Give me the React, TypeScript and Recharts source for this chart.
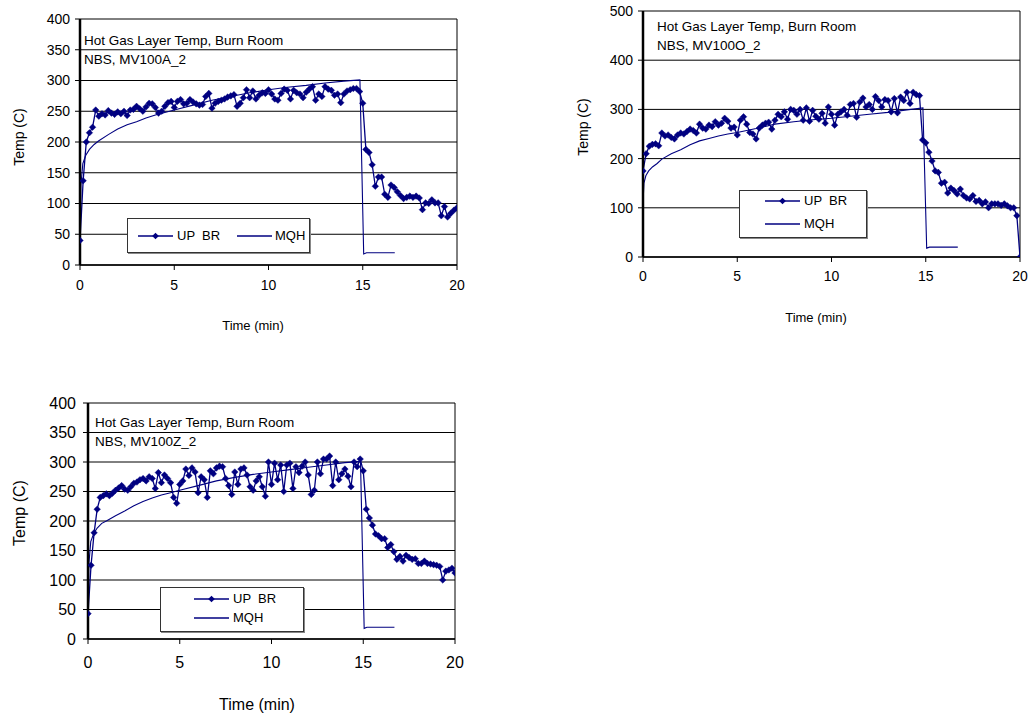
import React from 'react';
import { LineChart, Line, XAxis, YAxis, CartesianGrid, ReferenceLine, Legend } from 'recharts';

const NAVY = '#000080';
const FONT = '"Liberation Sans", Arial, Helvetica, sans-serif';

// UP BR readings are sampled every 10 s (1/6 min)
const SAMPLE_STEP_MIN = 1 / 6;
const X_TICKS = [0, 5, 10, 15, 20];
const Y_TICKS_400 = [0, 50, 100, 150, 200, 250, 300, 350, 400];
const Y_TICKS_500 = [0, 100, 200, 300, 400, 500];
const SERIES_NAMES = ['UP  BR', 'MQH'];
const TITLE_LINE1 = 'Hot Gas Layer Temp, Burn Room';
const TITLES_LINE2 = ['NBS, MV100A_2', 'NBS, MV100O_2', 'NBS, MV100Z_2'];
const X_TITLE = 'Time (min)';
const Y_TITLE = 'Temp (C)';

const UPBR_A = [
  40, 137, 200, 215, 224, 252, 242, 246, 244, 251,
  247, 245, 249, 246, 250, 243, 252, 253, 258, 254,
  250, 257, 263, 262, 256, 247, 250, 258, 264, 266,
  256, 266, 269, 262, 263, 269, 265, 262, 260, 261,
  274, 279, 255, 263, 266, 268, 270, 273, 275, 277,
  258, 263, 272, 285, 272, 283, 270, 276, 280, 279,
  285, 278, 270, 268, 279, 286, 284, 270, 284, 280,
  278, 272, 281, 286, 290, 268, 278, 274, 290, 286,
  284, 276, 278, 264, 278, 283, 285, 287, 287, 282,
  263, 188, 183, 163, 128, 143, 143, 115, 110, 130,
  126, 119, 113, 108, 110, 112, 110, 112, 109, 90,
  101, 100, 106, 101, 101, 80, 95, 78, 84, 89,
  93,
];

const UPBR_O = [
  175, 210, 225, 229, 230, 226, 252, 246, 248, 243,
  240, 248, 252, 250, 255, 260, 257, 252, 270, 262,
  260, 268, 265, 275, 268, 272, 282, 276, 262, 264,
  248, 278, 285, 270, 253, 250, 240, 262, 268, 272,
  274, 260, 278, 290, 285, 295, 280, 300, 298, 290,
  300, 278, 303, 276, 298, 286, 280, 292, 272, 305,
  290, 268, 290, 295, 300, 288, 310, 312, 284, 315,
  323, 305, 310, 300, 326, 318, 305, 320, 318, 295,
  322, 293, 325, 318, 335, 312, 335, 330, 328, 238,
  232, 213, 195, 175, 172, 150, 152, 130, 140, 135,
  128, 138, 125, 120, 118, 125, 113, 115, 108, 112,
  100, 108, 108, 108, 105, 108, 104, 100, 100, 84,
  0,
];

const UPBR_Z = [
  43, 125, 180, 220, 240, 243, 246, 243, 247, 252,
  256, 260, 254, 252, 258, 264, 266, 270, 272, 268,
  275, 272, 255, 282, 265, 278, 272, 265, 240, 230,
  262, 268, 288, 277, 290, 283, 248, 275, 270, 240,
  285, 280, 290, 293, 292, 272, 260, 245, 283, 262,
  288, 290, 278, 258, 252, 268, 275, 258, 242, 300,
  262, 298, 270, 295, 250, 295, 298, 255, 292, 282,
  293, 300, 278, 245, 252, 300, 280, 305, 305, 310,
  260, 300, 270, 280, 288, 276, 258, 300, 292, 305,
  285, 220, 205, 193, 178, 175, 170, 170, 155, 160,
  148, 135, 140, 132, 142, 138, 135, 136, 128, 128,
  132, 128, 127, 126, 125, 123, 100, 115, 117, 120,
  112,
];

const MQH_TIME = [0, 0.05, 0.15, 0.3, 0.5, 0.75, 1, 1.5, 2, 2.5, 3, 3.5, 4, 4.5, 5, 6, 7, 8, 9, 10, 11, 12, 13, 14, 14.85, 15.05, 15.2, 16.7];
const MQH_A = [20, 130, 165, 178, 188, 196, 202, 212, 221, 228, 233, 239, 244, 248, 252, 260, 268, 274, 280, 285, 289, 292, 296, 299, 301, 18, 20, 20];
const MQH_O = [110, 150, 165, 175, 183, 190, 199, 210, 218, 228, 236, 241, 246, 250, 253, 261, 270, 275, 279, 282, 286, 290, 294, 299, 303, 18, 20, 20];
const MQH_Z = [20, 128, 165, 178, 188, 196, 200, 209, 217, 226, 233, 239, 244, 248, 252, 260, 268, 274, 279, 283, 287, 291, 295, 299, 301, 18, 20, 20];

const toSampled = (vals: number[]) => vals.map((v, i) => ({ t: i * SAMPLE_STEP_MIN, v }));
const toPairs = (ts: number[], vals: number[]) => ts.map((t, i) => ({ t, v: vals[i] }));

const Diamond = (props: any) => {
  const { cx, cy, index } = props;
  if (cx == null || cy == null) return <g key={`d-${index}`} />;
  const r = 3.3;
  return (
    <path
      key={`d-${index}`}
      d={`M${cx},${cy - r}L${cx + r},${cy}L${cx},${cy + r}L${cx - r},${cy}Z`}
      fill={NAVY}
      stroke={NAVY}
      strokeWidth={0.4}
    />
  );
};

type LegendItemPos = { lineX: number; lineY: number; textX: number };
type LegendCfg = { left: number; top: number; width: number; height: number; items: LegendItemPos[] };

const makeLegend = (cfg: LegendCfg) => () => (
  <div
    style={{
      position: 'relative',
      width: cfg.width,
      height: cfg.height,
      border: '1px solid #333',
      background: '#fff',
      boxSizing: 'border-box',
      boxShadow: '1px 1px 0 #888',
      fontFamily: FONT,
      fontSize: 13,
      color: '#000',
    }}
  >
    {cfg.items.map((it, k) => (
      <React.Fragment key={k}>
        <svg style={{ position: 'absolute', left: it.lineX, top: it.lineY - 5 }} width={36} height={10}>
          <line x1={0} y1={5} x2={35} y2={5} stroke={NAVY} strokeWidth={1.3} />
          {k === 0 && <path d="M17.5,1.7L20.8,5L17.5,8.3L14.2,5Z" fill={NAVY} />}
        </svg>
        <span
          style={{
            position: 'absolute',
            left: it.textX,
            top: it.lineY - 8,
            lineHeight: '16px',
            whiteSpace: 'pre',
          }}
        >
          {SERIES_NAMES[k]}
        </span>
      </React.Fragment>
    ))}
  </div>
);

type ChartCfg = {
  left: number;
  top: number;
  width: number;
  height: number;
  margin: { top: number; right: number; bottom: number; left: number };
  yDomain: [number, number];
  yTicks: number[];
  upbr: number[];
  mqh: number[];
  title2: string;
  tickFont: number;
  xTickMargin: number;
  yTickMargin: number;
  xTitle: { x: number; y: number; size: number };
  yTitle: { x: number; y: number; size: number };
  titlePos: { x: number; y: number };
  legend: LegendCfg;
};

function TempChart(c: ChartCfg) {
  const upData = toSampled(c.upbr);
  const mqhData = toPairs(MQH_TIME, c.mqh);
  const tickStyle = { fill: '#000', fontSize: c.tickFont, fontFamily: FONT };
  return (
    <div style={{ position: 'absolute', left: c.left, top: c.top, width: c.width, height: c.height }}>
      <LineChart width={c.width} height={c.height} margin={c.margin}>
        <CartesianGrid horizontal vertical={false} stroke="#000" strokeWidth={1} />
        <XAxis
          type="number"
          dataKey="t"
          domain={[0, 20]}
          ticks={X_TICKS}
          interval={0}
          allowDataOverflow
          height={30}
          tick={tickStyle}
          tickLine={{ stroke: '#000' }}
          axisLine={{ stroke: '#000', strokeWidth: 1.5 }}
          tickSize={5}
          tickMargin={c.xTickMargin}
        />
        <YAxis
          type="number"
          domain={c.yDomain}
          ticks={c.yTicks}
          interval={0}
          allowDataOverflow
          width={50}
          tick={tickStyle}
          tickLine={{ stroke: '#000' }}
          axisLine={{ stroke: '#000', strokeWidth: 2.5 }}
          tickSize={5}
          tickMargin={c.yTickMargin}
        />
        <ReferenceLine x={20} stroke="#000" strokeWidth={1} />
        <Line
          data={mqhData}
          dataKey="v"
          name="MQH"
          type="linear"
          stroke={NAVY}
          strokeWidth={1.1}
          dot={false}
          isAnimationActive={false}
        />
        <Line
          data={upData}
          dataKey="v"
          name="UP BR"
          type="linear"
          stroke={NAVY}
          strokeWidth={1.3}
          dot={Diamond}
          activeDot={false}
          isAnimationActive={false}
        />
        <Legend
          layout="horizontal"
          align="center"
          verticalAlign="middle"
          content={makeLegend(c.legend)}
          wrapperStyle={{ position: 'absolute', left: c.legend.left, top: c.legend.top, width: c.legend.width, height: c.legend.height, margin: 0, padding: 0 }}
        />
      </LineChart>
      <div
        style={{
          position: 'absolute',
          left: c.titlePos.x,
          top: c.titlePos.y,
          fontFamily: FONT,
          fontSize: 13.5,
          lineHeight: '19px',
          color: '#000',
          whiteSpace: 'nowrap',
        }}
      >
        <div>{TITLE_LINE1}</div>
        <div>{c.title2}</div>
      </div>
      <div
        style={{
          position: 'absolute',
          left: c.xTitle.x,
          top: c.xTitle.y,
          transform: 'translate(-50%, -50%)',
          fontFamily: FONT,
          fontSize: c.xTitle.size,
          color: '#000',
          whiteSpace: 'nowrap',
        }}
      >
        {X_TITLE}
      </div>
      <div
        style={{
          position: 'absolute',
          left: c.yTitle.x,
          top: c.yTitle.y,
          transform: 'translate(-50%, -50%) rotate(-90deg)',
          fontFamily: FONT,
          fontSize: c.yTitle.size,
          color: '#000',
          whiteSpace: 'nowrap',
        }}
      >
        {Y_TITLE}
      </div>
    </div>
  );
}

export default function App() {
  return (
    <div style={{ position: 'absolute', left: 0, top: 0, width: 1029, height: 719, background: '#fff' }}>
      <TempChart
        left={0}
        top={0}
        width={480}
        height={340}
        margin={{ top: 19, right: 23, bottom: 45, left: 30 }}
        yDomain={[0, 400]}
        yTicks={Y_TICKS_400}
        upbr={UPBR_A}
        mqh={MQH_A}
        title2={TITLES_LINE2[0]}
        tickFont={14}
        xTickMargin={10}
        yTickMargin={5}
        xTitle={{ x: 253, y: 325, size: 13 }}
        yTitle={{ x: 19, y: 137, size: 14 }}
        titlePos={{ x: 84, y: 31 }}
        legend={{
          left: 127,
          top: 218,
          width: 183,
          height: 35,
          items: [
            { lineX: 10, lineY: 17, textX: 49 },
            { lineX: 109, lineY: 17, textX: 147 },
          ],
        }}
      />
      <TempChart
        left={560}
        top={0}
        width={469}
        height={340}
        margin={{ top: 11, right: 9, bottom: 53, left: 33 }}
        yDomain={[0, 500]}
        yTicks={Y_TICKS_500}
        upbr={UPBR_O}
        mqh={MQH_O}
        title2={TITLES_LINE2[1]}
        tickFont={14}
        xTickMargin={9}
        yTickMargin={5}
        xTitle={{ x: 256, y: 317, size: 13 }}
        yTitle={{ x: 23, y: 127, size: 14 }}
        titlePos={{ x: 97, y: 17 }}
        legend={{
          left: 179,
          top: 190,
          width: 128,
          height: 48,
          items: [
            { lineX: 25, lineY: 10, textX: 64 },
            { lineX: 25, lineY: 33, textX: 64 },
          ],
        }}
      />
      <TempChart
        left={0}
        top={380}
        width={480}
        height={339}
        margin={{ top: 23, right: 25, bottom: 50, left: 38 }}
        yDomain={[0, 400]}
        yTicks={Y_TICKS_400}
        upbr={UPBR_Z}
        mqh={MQH_Z}
        title2={TITLES_LINE2[2]}
        tickFont={16}
        xTickMargin={13}
        yTickMargin={7}
        xTitle={{ x: 257, y: 325, size: 16 }}
        yTitle={{ x: 20, y: 133, size: 16 }}
        titlePos={{ x: 95, y: 33 }}
        legend={{
          left: 160,
          top: 207,
          width: 144,
          height: 45,
          items: [
            { lineX: 33, lineY: 11, textX: 72 },
            { lineX: 33, lineY: 30, textX: 72 },
          ],
        }}
      />
    </div>
  );
}
